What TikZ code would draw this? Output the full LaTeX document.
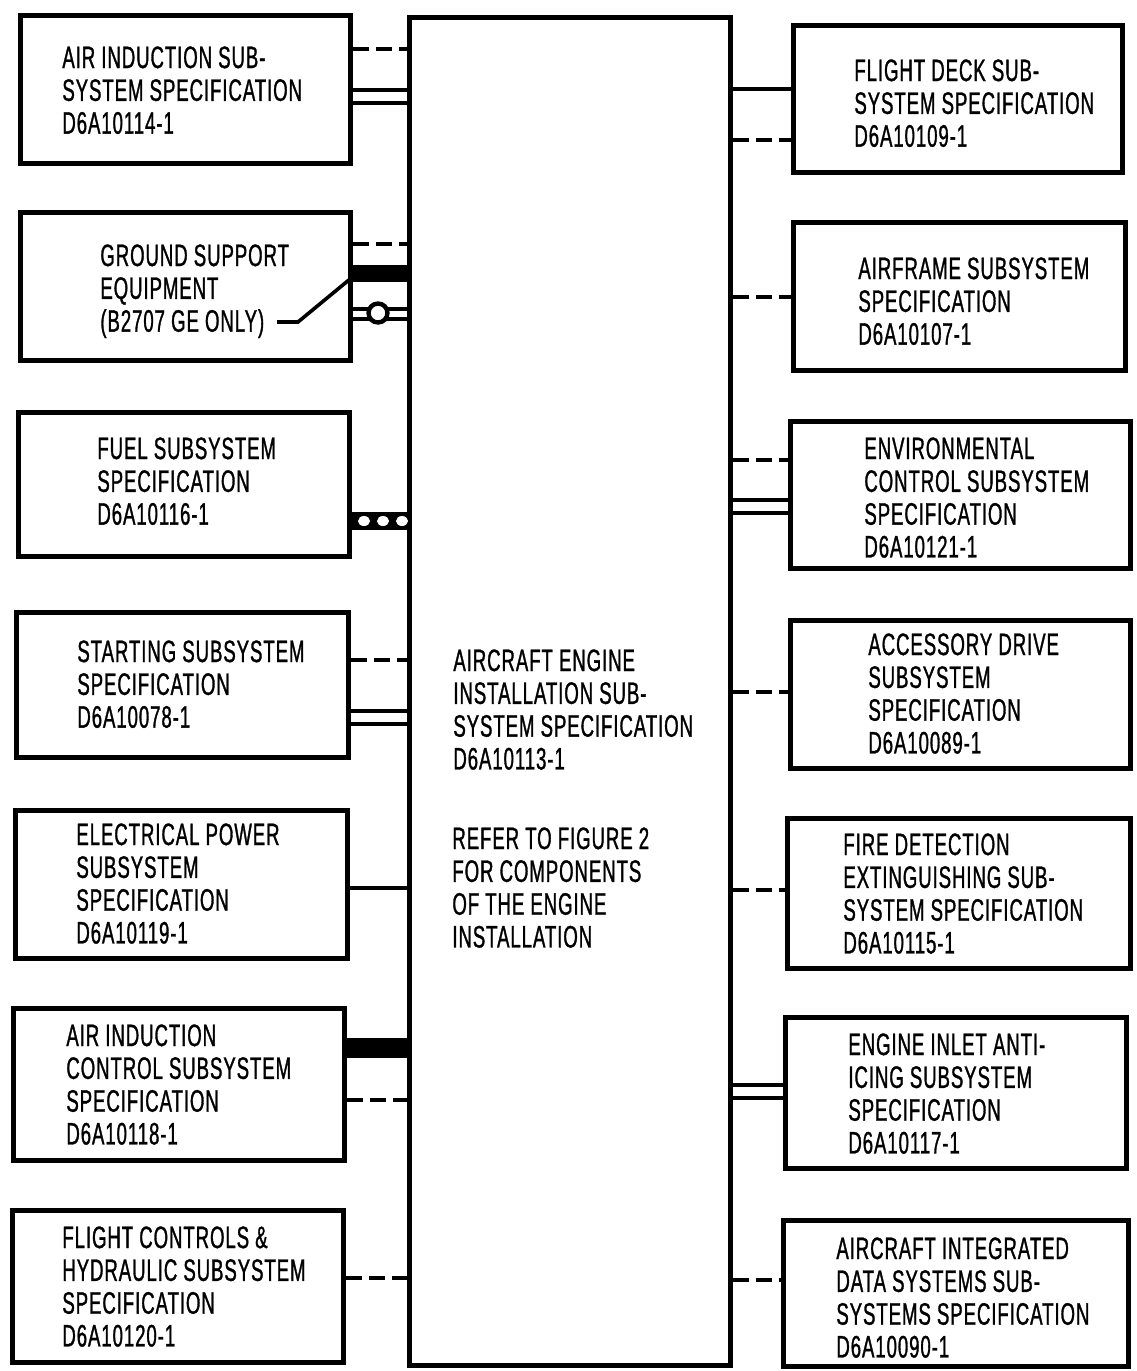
\documentclass[tikz,border=0pt]{standalone}
\usepackage{fontspec}
\setmainfont{Liberation Sans}[FakeStretch=0.6,LetterSpace=3,FakeBold=1]
\usetikzlibrary{fit}
\begin{document}
\begin{tikzpicture}[x=0.5pt,y=-0.5pt,
  box/.style={draw, line width=2.5pt, inner sep=0pt},
  txt/.style={anchor=north west, inner sep=0pt, align=left, font=\fontsize{15.5}{16.4}\selectfont},
  dsh/.style={line width=2pt, dash pattern=on 8pt off 3.5pt},
  sgl/.style={line width=2pt},
  dbl/.style={line width=2pt, double distance=4.5pt},
  dblt/.style={line width=2pt, double distance=3pt},
  bar/.style={line width=8.5pt}]
\useasboundingbox (0,0) rectangle (1136,1371);
\fill[white] (0,0) rectangle (1136,1371);

% boxes
\node[box, fit={(409,17) (730,1365)}] (C) {};
\node[box, fit={(20,15) (350,163)}] (L1) {};
\node[box, fit={(20,212) (350,360)}] (L2) {};
\node[box, fit={(18,412) (349,556)}] (L3) {};
\node[box, fit={(16,612) (348,757)}] (L4) {};
\node[box, fit={(15,810) (347,958)}] (L5) {};
\node[box, fit={(13,1008) (344,1160)}] (L6) {};
\node[box, fit={(12,1210) (343,1362)}] (L7) {};
\node[box, fit={(793,25) (1122,172)}] (R1) {};
\node[box, fit={(793,222) (1125,370)}] (R2) {};
\node[box, fit={(790,421) (1130,568)}] (R3) {};
\node[box, fit={(790,620) (1130,768)}] (R4) {};
\node[box, fit={(787,818) (1130,968)}] (R5) {};
\node[box, fit={(785,1017) (1126,1168)}] (R6) {};
\node[box, fit={(783,1220) (1128,1366)}] (R7) {};

% texts
\node[txt] (L1t) at (62,46) {AIR INDUCTION SUB-\\SYSTEM SPECIFICATION\\D6A10114-1};
\node[txt] (L2t) at (100,244) {GROUND SUPPORT\\EQUIPMENT\\(B2707 GE ONLY)};
\node[txt] (L3t) at (97,437) {FUEL SUBSYSTEM\\SPECIFICATION\\D6A10116-1};
\node[txt] (L4t) at (77,640) {STARTING SUBSYSTEM\\SPECIFICATION\\D6A10078-1};
\node[txt] (L5t) at (76,823) {ELECTRICAL POWER\\SUBSYSTEM\\SPECIFICATION\\D6A10119-1};
\node[txt] (L6t) at (66,1024) {AIR INDUCTION\\CONTROL SUBSYSTEM\\SPECIFICATION\\D6A10118-1};
\node[txt] (L7t) at (62,1226) {FLIGHT CONTROLS \&\\HYDRAULIC SUBSYSTEM\\SPECIFICATION\\D6A10120-1};
\node[txt] (R1t) at (854,59) {FLIGHT DECK SUB-\\SYSTEM SPECIFICATION\\D6A10109-1};
\node[txt] (R2t) at (858,257) {AIRFRAME SUBSYSTEM\\SPECIFICATION\\D6A10107-1};
\node[txt] (R3t) at (864,437) {ENVIRONMENTAL\\CONTROL SUBSYSTEM\\SPECIFICATION\\D6A10121-1};
\node[txt] (R4t) at (868,633) {ACCESSORY DRIVE\\SUBSYSTEM\\SPECIFICATION\\D6A10089-1};
\node[txt] (R5t) at (843,833) {FIRE DETECTION\\EXTINGUISHING SUB-\\SYSTEM SPECIFICATION\\D6A10115-1};
\node[txt] (R6t) at (848,1033) {ENGINE INLET ANTI-\\ICING SUBSYSTEM\\SPECIFICATION\\D6A10117-1};
\node[txt] (R7t) at (836,1237) {AIRCRAFT INTEGRATED\\DATA SYSTEMS SUB-\\SYSTEMS SPECIFICATION\\D6A10090-1};
\node[txt] (Ct) at (453,649) {AIRCRAFT ENGINE\\INSTALLATION SUB-\\SYSTEM SPECIFICATION\\D6A10113-1};
\node[txt] (Ct2) at (452,827) {REFER TO FIGURE 2\\FOR COMPONENTS\\OF THE ENGINE\\INSTALLATION};

% left connectors
\draw[dsh] (L1.east |- 0,49) -- (C.west |- 0,49);
\draw[dbl] (L1.east |- 0,96) -- (C.west |- 0,96);

\draw[dsh] (L2.east |- 0,244) -- (C.west |- 0,244);
\draw[bar] (L2.east |- 0,273.5) -- (C.west |- 0,273.5);
\draw[dblt] (L2.east |- 0,314) -- (C.west |- 0,314);
\node[circle, draw, line width=2.2pt, fill=white, minimum size=9.5pt, inner sep=0pt] (GSc) at (378,313) {};
\coordinate (GSp) at (277,322);
\draw[line width=1.8pt] (GSp) -- (298,322) -- (L2.east |- 0,277);

\draw[line width=9pt] (L3.east |- 0,521) -- (C.west |- 0,521);
\foreach \xx in {364,383,402} \fill[white] (\xx,521) ellipse (3pt and 2.5pt);

\draw[dsh] (L4.east |- 0,660) -- (C.west |- 0,660);
\draw[dbl] (L4.east |- 0,717) -- (C.west |- 0,717);

\draw[sgl] (L5.east |- 0,888) -- (C.west |- 0,888);

\draw[line width=10pt] (L6.east |- 0,1048) -- (C.west |- 0,1048);
\draw[dsh] (L6.east |- 0,1100) -- (C.west |- 0,1100);

\draw[dsh] (L7.east |- 0,1278) -- (C.west |- 0,1278);

% right connectors
\draw[sgl] (C.east |- 0,89) -- (R1.west |- 0,89);
\draw[dsh] (C.east |- 0,140) -- (R1.west |- 0,140);
\draw[dsh] (C.east |- 0,297) -- (R2.west |- 0,297);
\draw[dsh] (C.east |- 0,460) -- (R3.west |- 0,460);
\draw[dbl] (C.east |- 0,506) -- (R3.west |- 0,506);
\draw[dsh] (C.east |- 0,692) -- (R4.west |- 0,692);
\draw[dsh] (C.east |- 0,890) -- (R5.west |- 0,890);
\draw[dbl] (C.east |- 0,1091) -- (R6.west |- 0,1091);
\draw[dsh] (C.east |- 0,1280) -- (R7.west |- 0,1280);
\end{tikzpicture}
\end{document}
